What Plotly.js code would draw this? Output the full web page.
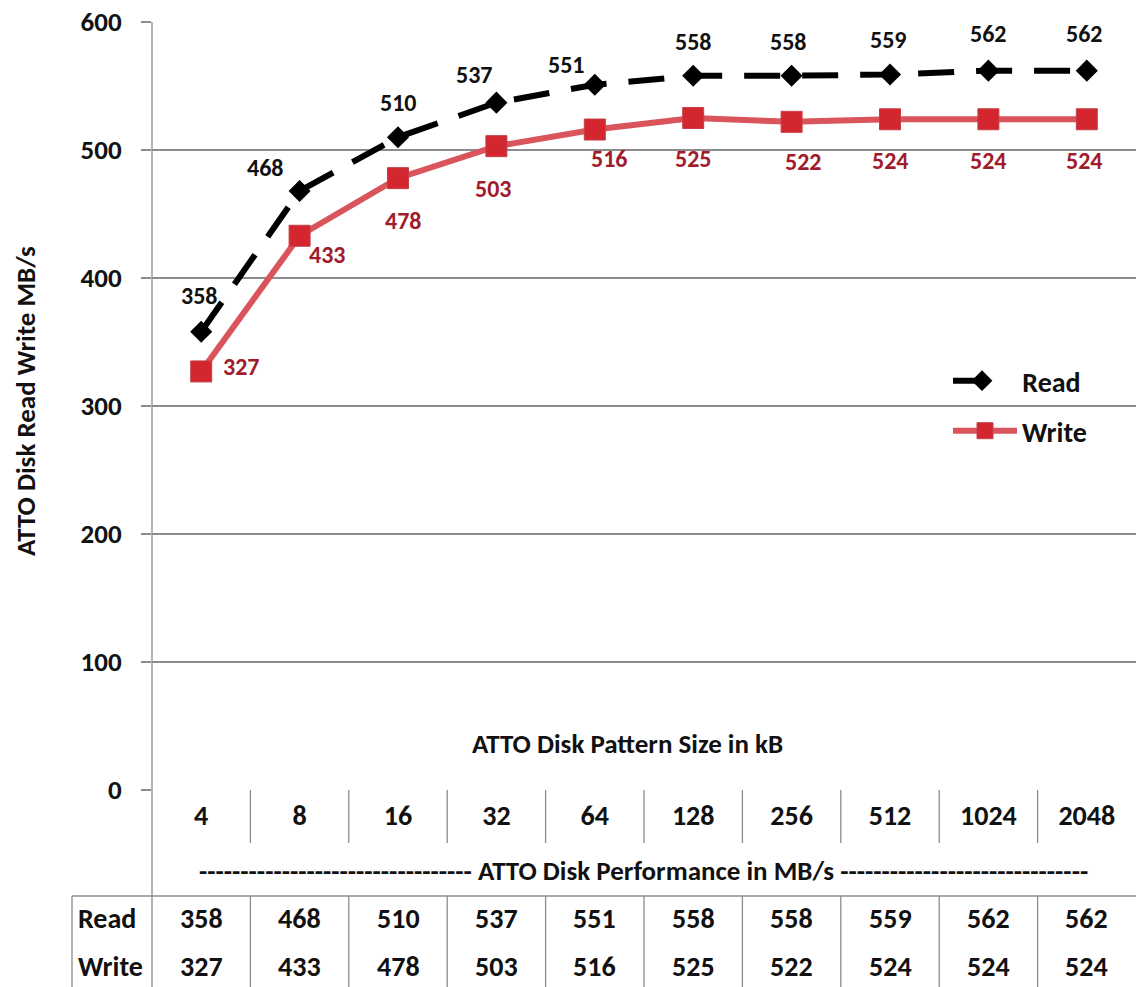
<!DOCTYPE html>
<html>
<head>
<meta charset="utf-8">
<script src="https://cdn.plot.ly/plotly-3.0.1.min.js"></script>
<style>html,body{margin:0;padding:0;background:#fff;}#chart{width:1136px;height:987px;}</style>
</head>
<body>
<div id="chart"></div>
<script>
const categories = ['4','8','16','32','64','128','256','512','1024','2048'];
const readValues = [358,468,510,537,551,558,558,559,562,562];
const writeValues = [327,433,478,503,516,525,522,524,524,524];
const seriesNames = ['Read','Write'];
const yTickValues = [0,100,200,300,400,500,600];
const xAxisTitle = 'ATTO Disk Pattern Size in kB';
const yAxisTitle = 'ATTO Disk Read Write MB/s';
const tableTitle = 'ATTO Disk Performance in MB/s';

// label placement (style, not data): pixel offsets of each data label from its point
const READ_LABEL_DX = [-2,-34,0,-22,-28,0,-3,-2,0,-2];
const READ_LABEL_DY = [-36,-23,-35,-28,-20,-34,-34,-35,-37,-37];
const WRITE_LABEL_DX = [40,28,5,-3,15,0,12,0,0,-2];
const WRITE_LABEL_DY = [-5,19,42,42,29,40,40,41,41,41];

const FONT = 'Carlito, Lato, "Open Sans", sans-serif';
const GRID = '#8c8c8c';
const INK = '#111';
const WRITE_LABEL_COLOR = 'rgb(160,28,44)';

const bold = s => '<b>' + s + '</b>';

const readTrace = {
  x: categories, y: readValues, name: bold(seriesNames[0]), type: 'scatter',
  mode: 'lines+markers',
  line: {color: '#000', width: 6, dash: '36px,22px'},
  marker: {symbol: 'diamond', size: 17, color: '#000'},
  legend: 'legend', cliponaxis: false
};
const writeTrace = {
  x: categories, y: writeValues, name: bold(seriesNames[1]), type: 'scatter',
  mode: 'lines+markers',
  line: {color: 'rgb(218,84,92)', width: 6},
  marker: {symbol: 'square', size: 21, color: 'rgb(212,38,46)', line: {color: 'rgb(196,64,72)', width: 1}},
  legend: 'legend2', cliponaxis: false
};

// paper coordinate helpers (plot area: x 152..1136, y 22..790)
const PX0 = 152, PW = 984, PY0 = 790, PH = 768;
const py = Y => (PY0 - Y) / PH;
const px = X => (X - PX0) / PW;

const shapes = [];
const lineStyle = {color: GRID, width: 1.3};
shapes.push({type:'line', xref:'paper', yref:'paper', x0:0, x1:0, y0:1, y1:py(987), line: lineStyle});
for (let i = 0; i < categories.length - 1; i++) {
  shapes.push({type:'line', xref:'x', yref:'paper', x0:i+0.5, x1:i+0.5, y0:0, y1:py(843), line: lineStyle});
  shapes.push({type:'line', xref:'x', yref:'paper', x0:i+0.5, x1:i+0.5, y0:py(896), y1:py(987), line: lineStyle});
}
shapes.push({type:'line', xref:'paper', yref:'paper', x0:px(72), x1:1, y0:py(896), y1:py(896), line: lineStyle});
shapes.push({type:'line', xref:'paper', yref:'paper', x0:px(72), x1:px(72), y0:py(896), y1:py(987), line: lineStyle});

const annotations = [];
const ann = o => annotations.push(Object.assign({showarrow:false, xanchor:'center', yanchor:'middle'}, o));
ann({xref:'paper', yref:'paper', x:px(25), y:py(401), text: bold(yAxisTitle), textangle:-90, font:{family:FONT, size:27, color:INK}});
ann({xref:'paper', yref:'paper', x:px(627), y:py(743), text: bold(xAxisTitle), font:{family:FONT, size:27, color:INK}});
ann({xref:'paper', yref:'paper', x:px(643), y:py(870), text: bold('-'.repeat(33) + ' ' + tableTitle + ' ' + '-'.repeat(30)), font:{family:FONT, size:27, color:INK}});
const rows = [[seriesNames[0], readValues, 918],[seriesNames[1], writeValues, 966]];
rows.forEach(([name, vals, Y]) => {
  ann({xref:'paper', yref:'paper', x:px(76), xanchor:'left', y:py(Y), text: bold(name), font:{family:FONT, size:28, color:INK}});
  vals.forEach((v, i) => ann({xref:'x', yref:'paper', x:i, y:py(Y), text: bold(v), font:{family:FONT, size:28, color:INK}}));
});
// data labels, anchored at each data point (category index, value) through the axes
readValues.forEach((v, i) => ann({xref:'x', yref:'y', x:i, y:v, xshift:READ_LABEL_DX[i], yshift:-READ_LABEL_DY[i], text: bold(v), font:{family:FONT, size:24, color:INK}}));
writeValues.forEach((v, i) => ann({xref:'x', yref:'y', x:i, y:v, xshift:WRITE_LABEL_DX[i], yshift:-WRITE_LABEL_DY[i], text: bold(v), font:{family:FONT, size:24, color:WRITE_LABEL_COLOR}}));

const layout = {
  width: 1136, height: 987,
  margin: {l: 152, r: 0, t: 22, b: 197, pad: 0},
  paper_bgcolor: '#fff', plot_bgcolor: '#fff',
  font: {family: FONT, color: INK},
  xaxis: {
    type: 'category', range: [-0.5, 9.5], showgrid: false, zeroline: false,
    showline: false, ticks: '', ticklabelstandoff: 6,
    tickfont: {family: FONT, size: 28, color: INK},
    tickvals: categories, ticktext: categories.map(bold), fixedrange: true
  },
  yaxis: {
    range: [0, 600], tickvals: yTickValues, ticktext: yTickValues.map(bold),
    showgrid: true, gridcolor: GRID, gridwidth: 1.3, zeroline: false,
    showline: false, ticks: 'outside', ticklen: 10, tickcolor: GRID, tickwidth: 1.3,
    ticklabelstandoff: 14,
    tickfont: {family: FONT, size: 27, color: INK}, fixedrange: true
  },
  shapes: shapes,
  annotations: annotations,
  legend: {x: px(948), y: py(381), xanchor: 'left', yanchor: 'middle', bgcolor: 'rgba(0,0,0,0)', itemwidth: 58, font: {family: FONT, size: 28, color: INK}},
  legend2: {x: px(948), y: py(431), xanchor: 'left', yanchor: 'middle', bgcolor: 'rgba(0,0,0,0)', itemwidth: 64, font: {family: FONT, size: 28, color: INK}},
  showlegend: true
};
readTrace.name = bold('&nbsp;' + seriesNames[0]);
Plotly.newPlot('chart', [readTrace, writeTrace], layout, {displayModeBar: false, staticPlot: true});
</script>
</body>
</html>
